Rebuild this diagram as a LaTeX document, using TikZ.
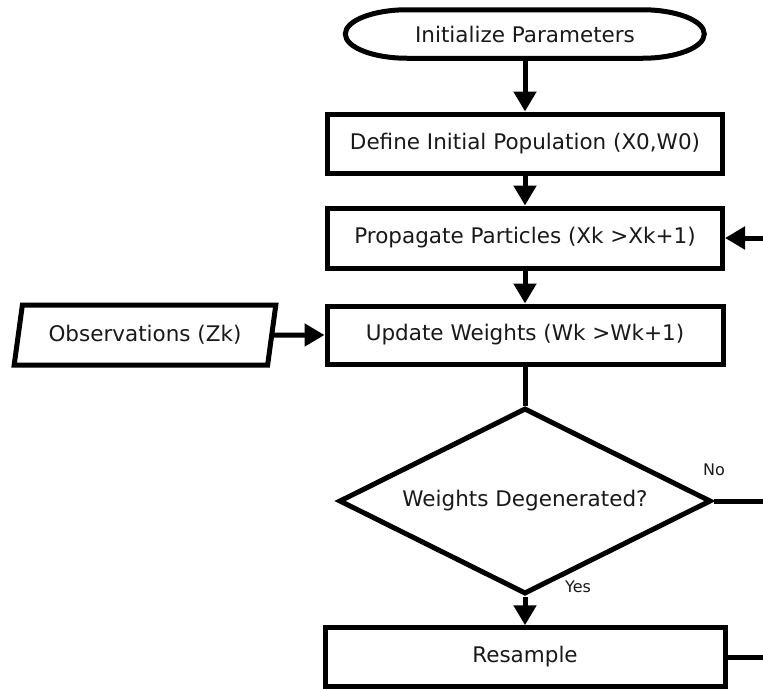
\documentclass[tikz,border=0pt]{standalone}
\usepackage{fontspec}
\setmainfont{DejaVu Sans}
\usetikzlibrary{arrows.meta,shapes.geometric}

\tikzset{
  lw/.style={line width=5pt},
  txt/.style={font=\fontsize{21.5}{24}\selectfont, text=black!90},
  stepbox/.style={lw, draw, rectangle, txt, inner sep=0pt, minimum width=396pt, minimum height=59pt},
  smalllabel/.style={font=\fontsize{16}{18}\selectfont, text=black!90, inner sep=0pt},
  flow/.style={lw, -{Triangle[width=22pt,length=20pt]}},
  plainline/.style={lw}
}

\begin{document}
\begin{tikzpicture}[x=1pt,y=-1pt]
  \useasboundingbox (0,0) rectangle (763,689);

  % start terminal
  \node[txt, inner sep=0pt, minimum width=359pt, minimum height=48.5pt] (init) at (525,34) {Initialize Parameters};
  \draw[lw] (init.west)
      arc[start angle=180, end angle=90, x radius=62, y radius=24.25]
      -- ++(235,0)
      arc[start angle=90, end angle=0, x radius=62, y radius=24.25]
      arc[start angle=0, end angle=-90, x radius=62, y radius=24.25]
      -- ++(-235,0)
      arc[start angle=270, end angle=180, x radius=62, y radius=24.25]
      -- cycle;

  % process steps
  \node[stepbox, minimum width=395pt] (define) at (525,143.5) {Define Initial Population (X0,W0)};
  \node[stepbox, minimum width=395pt, minimum height=60pt] (prop) at (525,238) {Propagate Particles (Xk >Xk+1)};
  \node[stepbox, minimum height=58pt] (upd) at (525,335) {Update Weights (Wk >Wk+1)};
  \node[stepbox, minimum width=400pt, minimum height=58.5pt] (res) at (525,657) {Resample};

  % input data
  \node[lw, draw, txt, trapezium, trapezium stretches=true,
        trapezium left angle=71.4, trapezium right angle=108.6,
        inner sep=0pt, minimum width=262pt, minimum height=60pt] (obs) at (145,335) {Observations (Zk)};

  % decision
  \node[lw, draw, txt, diamond, aspect=2, inner sep=0pt,
        minimum width=372pt, minimum height=186pt] (dec) at (525,501) {Weights Degenerated?};

  % loop ends at the right border
  \coordinate (loopIn) at (763,238);
  \coordinate (noOut) at (763,501);
  \coordinate (resOut) at (763,657);

  % connectors
  \draw[flow] (init.south) -- (define.north);
  \draw[flow] (define.south) -- (prop.north);
  \draw[flow] (prop.south) -- (upd.north);
  \draw[flow] (obs.east) -- (upd.west);
  \draw[plainline] (upd.south) -- (dec.north);
  \draw[flow] (dec.south) -- (res.north);
  \draw[flow] (loopIn) -- (prop.east);
  \draw[plainline] (dec.east) -- (noOut);
  \draw[plainline] (res.east) -- (resOut);

  % branch labels
  \node[smalllabel] (noLbl) at (714,470) {No};
  \node[smalllabel] (yesLbl) at (578,587) {Yes};
\end{tikzpicture}
\end{document}
